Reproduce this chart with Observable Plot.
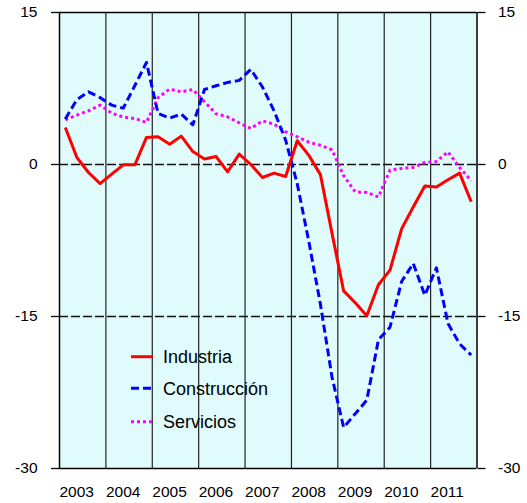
<!DOCTYPE html>
<html>
<head>
<meta charset="utf-8">
<script src="https://cdn.jsdelivr.net/npm/d3@7"></script>
<script src="https://cdn.jsdelivr.net/npm/@observablehq/plot@0.6"></script>
<style>
  body { margin: 0; background: #fff; }
  #chart { width: 527px; height: 503px; }
</style>
</head>
<body>
<div id="chart"></div>
<script>
const years = [2003, 2004, 2005, 2006, 2007, 2008, 2009, 2010, 2011];
const yTicks = [15, 0, -15, -30];

// Quarterly values, 2003 Q1 .. 2011 Q4
const industria = [
  3.65, 0.69, -0.79, -1.88, -0.95, -0.03, -0.03, 2.67,
  2.73, 2.0, 2.8, 1.28, 0.55, 0.79, -0.72, 1.03,
  0.0, -1.28, -0.85, -1.18, 2.34, 0.9, -1.0, -6.8,
  -12.47, -13.65, -14.93, -11.87, -10.42, -6.35, -4.2, -2.12,
  -2.22, -1.5, -0.85, -3.68
];
const construccion = [
  4.5, 6.4, 7.17, 6.6, 5.86, 5.56, 7.8, 10.07,
  5.03, 4.58, 4.97, 3.92, 7.4, 7.77, 8.1, 8.3,
  9.38, 7.65, 5.3, 2.4, -1.9, -7.6, -13.8, -21.0,
  -25.95, -24.6, -23.25, -17.3, -16.05, -11.55, -9.77, -12.9,
  -10.2, -15.7, -17.7, -18.8
];
const servicios = [
  4.41, 4.87, 5.3, 5.86, 5.07, 4.68, 4.54, 4.15,
  6.6, 7.44, 7.17, 7.4, 6.2, 5.0, 4.7, 4.1,
  3.55, 4.31, 3.98, 3.23, 2.73, 2.2, 1.9, 1.45,
  -1.1, -2.7, -2.76, -3.2, -0.55, -0.39, -0.29, 0.2,
  0.3, 1.25, -0.3, -1.6
];

const seriesNames = ["Industria", "Construcción", "Servicios"];
const seriesColors = ["#ff0000", "#0000ff", "#ff00ff"];
const seriesDash = [null, "8,4", "3,3"];

const rows = (vals) => vals.map((v, i) => ({x: years[0] + (i + 0.5) / 4, v}));

const font = "'Liberation Sans', Arial, sans-serif";

const svg = Plot.plot({
  width: 527,
  height: 503,
  marginLeft: 59,
  marginRight: 50.5,
  marginTop: 12,
  marginBottom: 35,
  x: {domain: [2003, 2012]},
  y: {domain: [-30, 15]},
  style: {fontFamily: font, fontSize: "15.5px", color: "#000", background: "#fff", overflow: "visible"},
  marks: [
    Plot.frame({fill: "#e0fbfb", stroke: null}),
    Plot.ruleX(years.slice(1), {stroke: "#222", strokeWidth: 1.2}),
    Plot.ruleY([0, -15], {stroke: "#111", strokeWidth: 1.3, strokeDasharray: "9,3"}),
    Plot.ruleY([15, -30], {stroke: "#000", strokeWidth: 1.5}),
    Plot.ruleX([2003, 2012], {stroke: "#000", strokeWidth: 1.5}),
    Plot.axisY({anchor: "left", ticks: yTicks, tickSize: 8, tickPadding: 14, label: null, tickFormat: d => String(d), strokeWidth: 1.3}),
    Plot.axisY({anchor: "right", ticks: yTicks, tickSize: 8, tickPadding: 13, label: null, tickFormat: d => String(d), strokeWidth: 1.3}),
    Plot.axisX({ticks: years, tickSize: 0, tickPadding: 17, textAnchor: "start", tickFormat: d => String(d), label: null}),
    Plot.line(rows(servicios), {x: "x", y: "v", stroke: seriesColors[2], strokeWidth: 3, strokeDasharray: seriesDash[2], strokeLinecap: "butt"}),
    Plot.line(rows(construccion), {x: "x", y: "v", stroke: seriesColors[1], strokeWidth: 3, strokeDasharray: seriesDash[1], strokeLinecap: "butt"}),
    Plot.line(rows(industria), {x: "x", y: "v", stroke: seriesColors[0], strokeWidth: 3, strokeLinecap: "butt"})
  ]
});

// Legend inside the plot area
const lg = d3.select(svg).append("g")
  .attr("font-family", font)
  .attr("font-size", "18px")
  .attr("text-anchor", "start");
const legendY = [356.7, 388.3, 421.7];
seriesNames.forEach((name, i) => {
  const g = lg.append("g").attr("transform", `translate(131,${legendY[i]})`);
  g.append("line").attr("x1", 0).attr("x2", 22).attr("y1", 0).attr("y2", 0)
    .attr("stroke", seriesColors[i]).attr("stroke-width", 3)
    .attr("stroke-dasharray", seriesDash[i]);
  g.append("text").attr("x", 32).attr("y", 0).attr("dy", "0.35em")
    .attr("text-anchor", "start").attr("fill", "#000").text(name);
});

document.getElementById("chart").appendChild(svg);
</script>
</body>
</html>
